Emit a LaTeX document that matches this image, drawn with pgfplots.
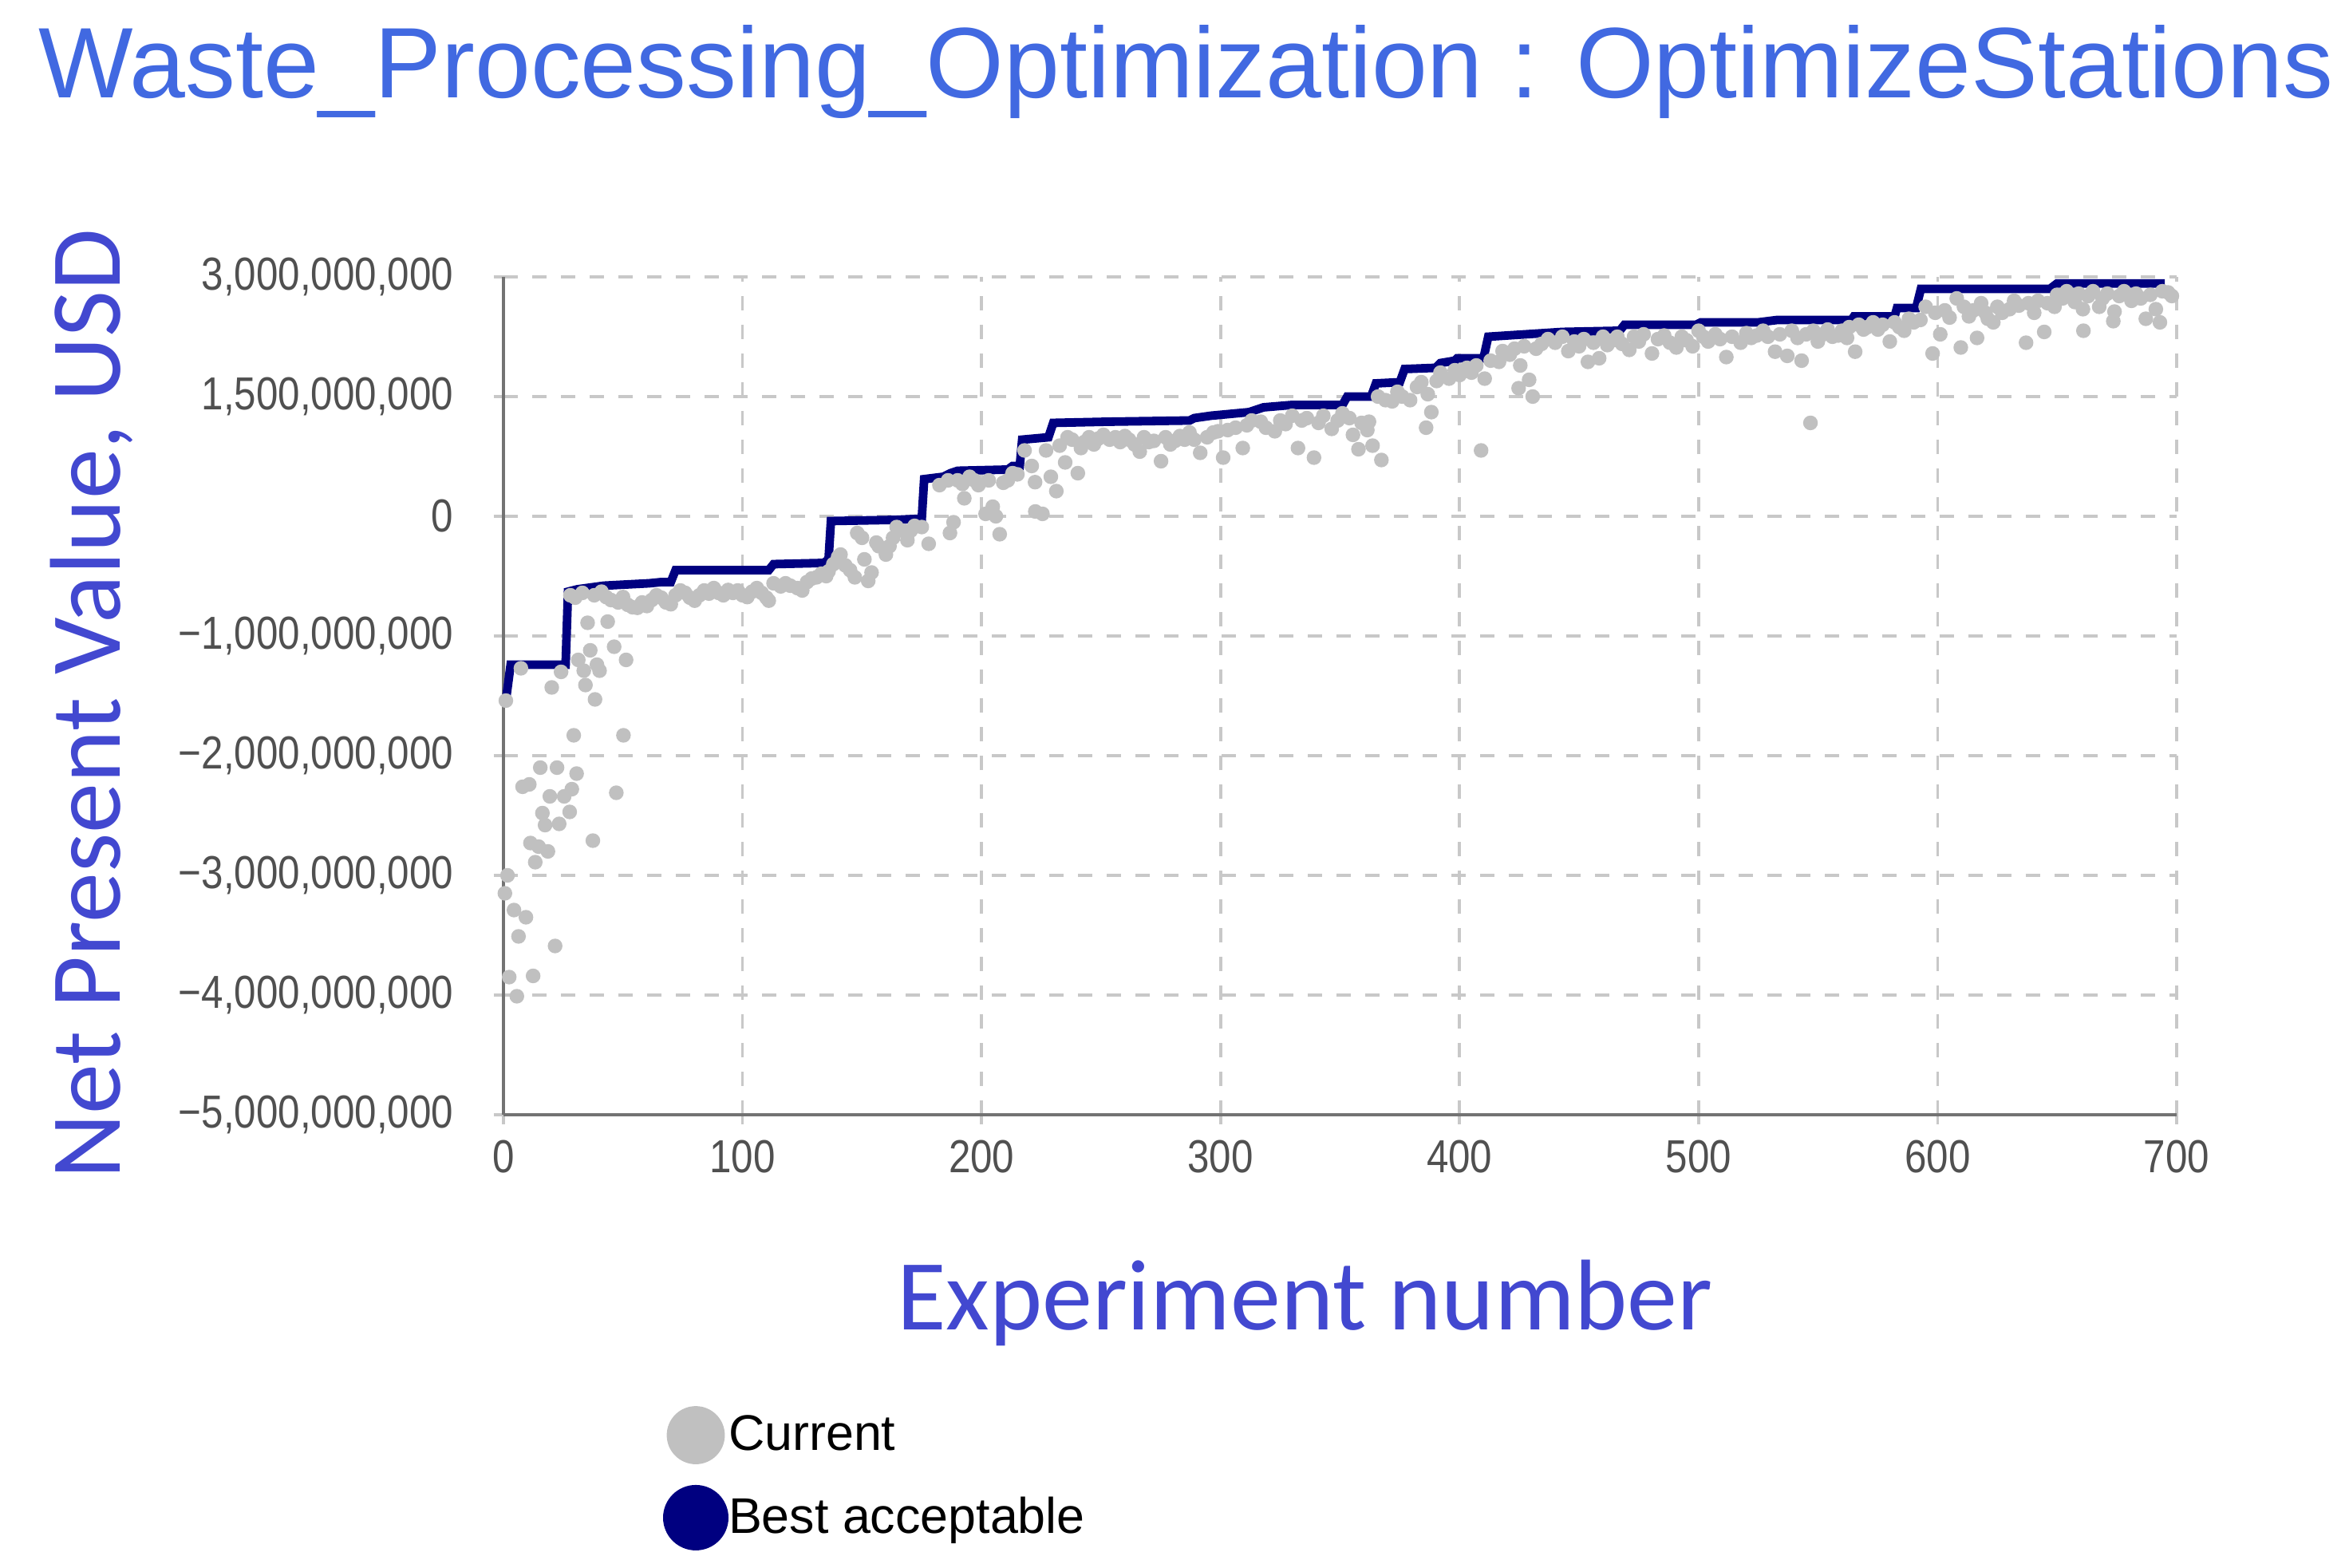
\documentclass[border=0pt]{standalone}
\usepackage{fontspec}
\setmainfont{Liberation Sans}
\newfontfamily\carlito{Carlito}
\newfontfamily\narrow[FakeStretch=0.85]{Liberation Sans}
\usepackage{pgfplots}
\usepackage{pgfplotstable}
\pgfplotsset{compat=1.18}
\definecolor{titleblue}{RGB}{65,105,225}
\definecolor{labelblue}{RGB}{66,72,208}
\definecolor{navyline}{RGB}{0,0,128}
\definecolor{dotgray}{RGB}{192,192,192}
\definecolor{tickgray}{RGB}{80,80,80}
\definecolor{gridgray}{RGB}{200,200,200}

% Current (values in tick units: 0 = 0, -1 = -1e9 ... ; 1 = "1,500,000,000", 2 = "3,000,000,000")
\pgfplotstableread{
x y
1 -1.54
0.6 -3.15
1.7 -3.00
2.4 -3.85
4.4 -3.29
5.6 -4.01
6.3 -3.51
7.3 -1.27
8 -2.26
9.4 -3.35
10.8 -2.24
11.3 -2.73
12.4 -3.84
13.3 -2.89
14.7 -2.76
15.4 -2.10
16.3 -2.48
17.4 -2.58
18.6 -2.80
19.4 -2.34
20.2 -1.43
21.6 -3.59
22.4 -2.10
23.3 -2.57
24.1 -1.30
25.4 -2.34
27.7 -2.47
28.6 -2.28
29.4 -1.83
30.6 -2.15
31.3 -1.20
33.6 -1.29
34.3 -1.41
35.2 -0.89
36.3 -1.12
37.4 -2.71
38.3 -1.53
39.1 -1.24
40.2 -1.29
43.6 -0.88
46.3 -1.09
47.2 -2.31
50.2 -1.83
51.3 -1.20
28 -0.66
30 -0.68
33 -0.64
38 -0.66
41 -0.63
43 -0.675
45 -0.70
48 -0.72
50 -0.675
52 -0.74
54 -0.76
56 -0.765
58 -0.72
60 -0.75
62 -0.70
64 -0.66
66 -0.68
68 -0.72
70 -0.735
72 -0.66
74 -0.62
76 -0.64
78 -0.68
80 -0.705
82 -0.66
84 -0.62
86 -0.646
88 -0.60
90 -0.64
92 -0.66
94 -0.616
96 -0.64
98 -0.62
100 -0.66
102 -0.675
104 -0.63
106 -0.60
108 -0.64
110 -0.68
111 -0.705
113 -0.56
116 -0.586
118 -0.56
120 -0.58
123 -0.60
125 -0.62
127 -0.55
129 -0.52
131 -0.51
133 -0.48
135 -0.50
136 -0.46
138 -0.40
140 -0.34
141 -0.32
143 -0.41
145 -0.45
147 -0.51
148 -0.14
150 -0.18
151 -0.36
152.6 -0.54
154 -0.47
156 -0.22
157 -0.25
160 -0.32
161.5 -0.25
163 -0.18
164.5 -0.09
167 -0.12
169 -0.20
170.4 -0.12
172 -0.08
175 -0.09
177.9 -0.23
182.4 0.26
186 0.30
186.8 -0.14
188.3 -0.05
190 0.30
192 0.27
192.8 0.15
195 0.33
197 0.30
198.7 0.26
201.7 0.02
203 0.30
204.7 0.08
206 0.00
207.6 -0.15
209.1 0.28
211 0.30
213 0.36
215 0.35
218 0.55
221 0.42
222.4 0.285
222.5 0.04
225.5 0.02
227 0.55
229 0.33
231.3 0.21
232.7 0.59
235 0.45
236 0.66
237.9 0.64
240.3 0.36
241.6 0.57
243 0.62
245 0.66
247 0.60
249 0.65
251 0.68
253.6 0.64
256 0.66
258 0.62
260 0.67
261.7 0.64
264 0.60
266.2 0.54
268 0.66
270 0.62
272.1 0.63
275.1 0.46
277 0.66
279 0.60
281 0.63
283 0.67
285 0.64
287 0.70
289 0.64
291.5 0.53
294.4 0.66
297 0.70
298.9 0.71
301.1 0.49
303 0.72
306.3 0.74
309.3 0.57
311 0.76
313 0.80
316.8 0.79
319 0.74
322.7 0.71
325 0.80
327.2 0.77
330 0.84
332.4 0.57
334 0.80
336.1 0.82
339.1 0.49
341 0.78
343 0.84
346.5 0.73
349 0.80
351 0.86
353.9 0.82
355.4 0.68
357.7 0.56
359 0.78
361.4 0.72
362.1 0.79
363.6 0.59
365.9 1.00
367.3 0.47
369 0.97
371.8 0.96
374 1.04
376 1.00
379.3 0.97
382.2 1.08
384 1.12
386 0.74
386.7 1.02
388.2 0.87
390.4 1.13
392 1.20
395.6 1.15
398 1.22
400 1.18
403.1 1.24
405 1.20
407 1.26
409 0.55
410.5 1.15
413 1.30
416.5 1.29
418 1.38
421 1.35
423 1.40
424.7 1.07
425.4 1.26
427 1.42
429.1 1.14
430.6 1.00
432 1.40
434.3 1.44
437 1.48
440 1.45
443 1.50
445.5 1.38
448 1.46
450 1.42
452 1.48
453.7 1.29
456 1.45
458.4 1.32
460 1.50
461.8 1.43
464 1.47
466 1.50
468 1.44
471 1.39
473 1.50
475 1.46
477 1.52
480.5 1.36
483 1.48
485.6 1.51
488 1.45
490.7 1.41
493 1.50
495 1.47
497.5 1.42
500 1.55
502 1.50
504 1.46
507 1.52
509 1.48
511.6 1.33
514 1.50
517.6 1.45
520 1.53
522 1.49
524.3 1.51
527 1.55
529 1.50
532 1.375
534 1.52
537.1 1.34
539 1.55
541.4 1.49
543.1 1.30
545 1.52
546.8 0.78
548 1.55
549.9 1.46
552 1.52
554 1.56
556 1.50
558.4 1.51
560 1.55
562.1 1.49
563 1.58
565.5 1.375
567 1.60
569 1.56
570.6 1.58
573 1.62
575 1.56
577 1.60
580 1.46
582 1.62
584 1.58
586 1.55
588 1.65
590 1.62
592.8 1.64
595 1.75
597.9 1.36
599 1.70
601.1 1.52
603 1.72
605 1.66
608 1.82
609.7 1.41
611 1.75
613.1 1.67
615 1.72
616.5 1.49
618.2 1.78
620 1.70
621 1.65
623.3 1.62
625 1.75
627 1.70
630.1 1.73
632 1.80
634 1.76
637 1.45
638 1.78
640.4 1.70
642 1.80
644.6 1.54
646 1.78
648.9 1.75
650 1.85
652.3 1.82
654 1.88
656 1.84
657.4 1.79
659 1.86
660.8 1.73
661 1.55
663 1.84
665 1.88
667.6 1.75
669 1.82
671 1.86
673.5 1.63
674 1.71
676 1.84
678 1.88
681.1 1.80
683 1.86
685 1.82
687.1 1.65
689 1.85
691.3 1.73
693 1.62
694 1.88
696.4 1.87
698 1.84
}\currenttable

% Best acceptable
\pgfplotstableread{
x y
1 -1.54
3 -1.24
26 -1.24
27 -0.63
31 -0.61
42 -0.58
61 -0.56
66 -0.55
70 -0.55
72 -0.45
111 -0.45
113 -0.40
134 -0.39
136 -0.36
137 -0.04
164 -0.03
175 -0.02
176 0.31
184 0.33
187 0.36
190 0.38
211 0.39
213 0.42
216 0.42
217 0.64
228 0.66
230 0.78
253 0.79
287 0.80
289 0.82
296 0.84
312 0.87
318 0.91
330 0.93
351 0.93
353 1.00
363 1.00
365 1.11
375 1.12
377 1.23
390 1.24
392 1.28
398 1.30
399 1.32
410 1.32
412 1.50
443 1.54
467 1.55
469 1.60
499 1.60
501 1.62
525 1.62
533 1.64
564 1.64
565 1.67
582 1.67
583 1.74
591 1.74
593 1.90
647 1.90
650 1.945
695 1.945
}\besttable

\begin{document}
\begin{tikzpicture}
\path[use as bounding box] (0pt,0pt) rectangle (736pt,491.25pt);
\begin{axis}[
  at={(157.75pt,142pt)}, anchor=south west,
  scale only axis, width=524.25pt, height=262.5pt,
  xmin=0, xmax=700, ymin=-5, ymax=2,
  axis x line=bottom, axis y line=left,
  axis line style={draw=black!55, line width=0.8pt, -},
  xtick={0,100,...,700},
  ytick={-5,-4,-3,-2,-1,0,1,2},
  yticklabels={{−5,000,000,000},{−4,000,000,000},{−3,000,000,000},{−2,000,000,000},{−1,000,000,000},{0},{1,500,000,000},{3,000,000,000}},
  /pgf/number format/assume math mode=true,
  /pgf/number format/set thousands separator={},
  tick align=outside, major tick length=3pt,
  tick style={draw=gridgray, line width=0.9pt},
  grid=major,
  major grid style={draw=gridgray, line width=0.9pt, dash pattern=on 4.5pt off 4.5pt},
  ticklabel style={font=\narrow\fontsize{14.5}{16}\selectfont, text=tickgray},
  yticklabel style={xshift=-9.2pt},
  xticklabel style={yshift=-1.5pt},
  title={Waste\_Processing\_Optimization : OptimizeStations},
  title style={at={(0.408,1.191)}, anchor=base, yshift=0pt, font=\fontsize{31.4}{36}\selectfont, text=titleblue},
  xlabel={Experiment number},
  xlabel style={at={(0.479,-0.257)}, anchor=base, yshift=0pt, font=\carlito\fontsize{31.5}{36}\selectfont, text=labelblue},
  ylabel={Net Present Value, USD},
  ylabel style={at={(-0.229,0.49)}, anchor=base, yshift=0pt, font=\carlito\fontsize{31.5}{36}\selectfont, text=labelblue},
  legend style={draw=none, fill=none, at={(0.095,-0.347)}, anchor=north west,
    inner sep=0pt, row sep=6.5pt, font=\fontsize{15.7}{18}\selectfont,
    nodes={inner sep=0pt}, /tikz/every even column/.style={column sep=4pt}},
  legend cell align=left,
  clip=false,
]
\addplot[only marks, mark=*, mark size=2.1pt, color=dotgray, mark options={draw=dotgray, fill=dotgray},
  legend image code/.code={\fill[dotgray] (8.9pt,0pt) circle (8.9pt);}]
  table[x=x, y=y] {\currenttable};
\addlegendentry{Current}
\addplot[navyline, line width=2.7pt, mark=none,
  legend image code/.code={\fill[navyline] (8.9pt,0pt) circle (8.9pt);}]
  table[x=x, y=y] {\besttable};
\addlegendentry{Best acceptable}
\end{axis}
\end{tikzpicture}
\end{document}
